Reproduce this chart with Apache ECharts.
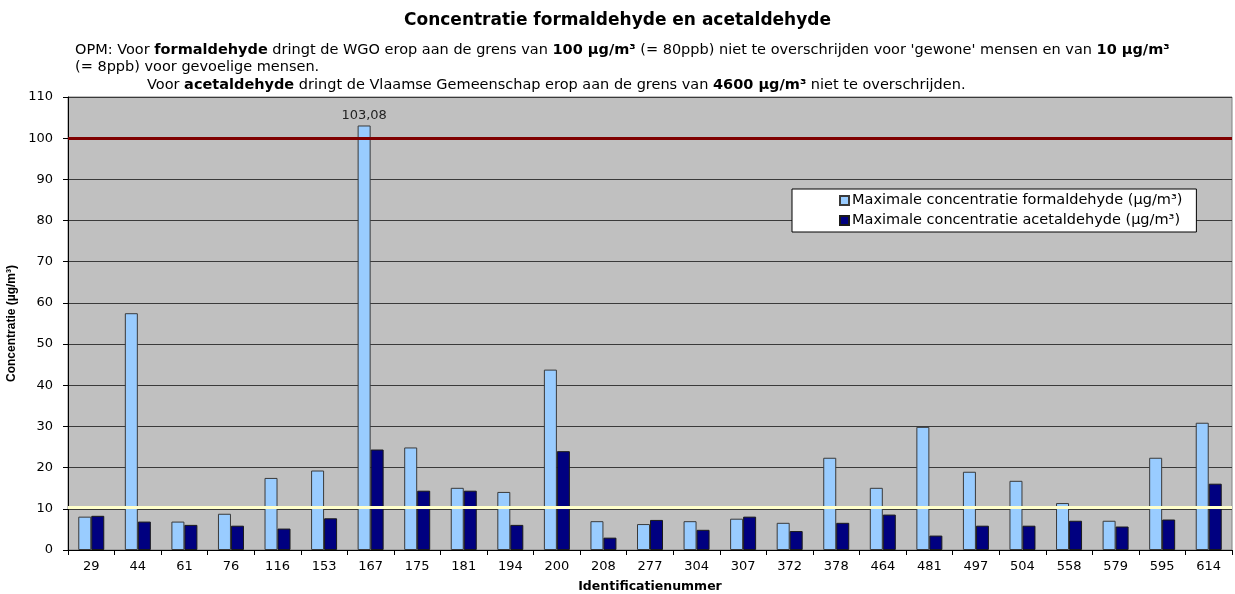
<!DOCTYPE html>
<html>
<head>
<meta charset="utf-8">
<script src="https://cdn.jsdelivr.net/npm/echarts@6/dist/echarts.min.js"></script>
<style>
  html, body { margin: 0; padding: 0; background: #fff; }
  #chart { width: 1235px; height: 594px; }
</style>
</head>
<body>
<div id="chart"></div>
<script>
// identificatienummers
const categories = ['29', '44', '61', '76', '116', '153', '167', '175', '181', '194', '200', '208', '277',
  '304', '307', '372', '378', '464', '481', '497', '504', '558', '579', '595', '614']

// maximale concentraties (µg/m³)
const formaldehyde = [8.1, 57.5, 6.9, 8.8, 17.5, 19.3, 103.08, 24.9, 15.1, 14.1, 43.8, 7.0, 6.3,
  7.0, 7.6, 6.6, 22.4, 15.1, 29.9, 19.0, 16.8, 11.4, 7.1, 22.4, 30.9]
const acetaldehyde = [8.3, 6.9, 6.1, 5.9, 5.2, 7.7, 24.4, 14.4, 14.4, 6.1, 24.0, 3.0, 7.3,
  4.9, 8.1, 4.6, 6.6, 8.6, 3.5, 5.9, 5.9, 7.1, 5.7, 7.4, 16.1]

const seriesNames = ['Maximale concentratie formaldehyde (µg/m³)', 'Maximale concentratie acetaldehyde (µg/m³)']
const yTicks = { min: 0, max: 110, interval: 10 }

// grenswaarden als horizontale lijnen
const limitHigh = 100
const limitLow = 10.4

// alleen de hoogste waarde krijgt een label
const labeledCategory = '167'

const font = 'DejaVu Sans'

const chart = echarts.init(document.getElementById('chart'))

const formData = formaldehyde.map((v, i) => {
  if (categories[i] === labeledCategory) {
    return {
      value: v,
      label: {
        show: true,
        position: 'top',
        distance: 3,
        fontFamily: font,
        fontSize: 13,
        color: '#222',
        formatter: (p) => String(p.value).replace('.', ',')
      }
    }
  }
  return v
})

const rich = {
  n: { fontFamily: font, fontSize: 14.5, color: '#000', lineHeight: 17 },
  b: { fontFamily: font, fontSize: 14.5, fontWeight: 'bold', color: '#000', lineHeight: 17 }
}

const option = {
  animation: false,
  backgroundColor: '#fff',
  title: {
    text: 'Concentratie formaldehyde en acetaldehyde',
    left: 'center',
    top: 7,
    textStyle: { fontFamily: font, fontSize: 17, fontWeight: 'bold', color: '#000' }
  },
  graphic: [
    {
      type: 'text',
      left: 75,
      top: 43,
      style: {
        text: '{n|OPM: Voor }{b|formaldehyde}{n| dringt de WGO erop aan de grens van }{b|100 µg/m³}{n| (= 80ppb) niet te overschrijden voor \'gewone\' mensen en van }{b|10 µg/m³}\n{n|(= 8ppb) voor gevoelige mensen.}',
        rich: rich
      }
    },
    {
      type: 'text',
      left: 147,
      top: 78,
      style: {
        text: '{n|Voor }{b|acetaldehyde}{n| dringt de Vlaamse Gemeenschap erop aan de grens van }{b|4600 µg/m³}{n| niet te overschrijden.}',
        rich: rich
      }
    }
  ],
  legend: {
    orient: 'vertical',
    left: 792,
    top: 189,
    backgroundColor: '#fff',
    borderColor: '#000',
    borderWidth: 1,
    padding: [4, 14, 4, 47],
    itemWidth: 9,
    itemHeight: 9,
    itemGap: 5,
    icon: 'rect',
    textStyle: { fontFamily: font, fontSize: 14.5, color: '#000', padding: [0, 0, 0, -2] },
    data: seriesNames
  },
  grid: {
    left: 68,
    right: 3,
    top: 97,
    bottom: 44,
    outerBoundsMode: 'none',
    show: true,
    backgroundColor: '#C0C0C0',
    borderColor: '#808080',
    borderWidth: 1
  },
  xAxis: {
    type: 'category',
    data: categories,
    name: 'Identificatienummer',
    nameLocation: 'middle',
    nameGap: 30,
    nameTextStyle: { fontFamily: font, fontSize: 12.5, fontWeight: 'bold', color: '#000' },
    axisLine: { lineStyle: { color: '#000', width: 1 } },
    axisTick: { show: true, length: 5, lineStyle: { color: '#000' } },
    axisLabel: { fontFamily: font, fontSize: 13, color: '#000', margin: 10 }
  },
  yAxis: {
    type: 'value',
    min: yTicks.min,
    max: yTicks.max,
    interval: yTicks.interval,
    name: 'Concentratie (µg/m³)',
    nameLocation: 'middle',
    nameGap: 40,
    nameTextStyle: { fontFamily: 'Liberation Sans Narrow, Liberation Sans', fontSize: 12, fontWeight: 'bold', color: '#000' },
    axisLine: { show: true, lineStyle: { color: '#000', width: 1 } },
    axisTick: { show: true, length: 5, lineStyle: { color: '#000' } },
    axisLabel: { fontFamily: font, fontSize: 13, color: '#000', margin: 15 },
    splitLine: { show: true, lineStyle: { color: '#3a3a3a', width: 1 } }
  },
  series: [
    {
      name: seriesNames[0],
      type: 'bar',
      data: formData,
      barWidth: 13,
      barGap: '0%',
      itemStyle: { color: '#99CCFF', borderColor: '#3a3a3a', borderWidth: 1 },
      markLine: {
        silent: true,
        symbol: 'none',
        label: { show: false },
        data: [
          { yAxis: limitHigh, lineStyle: { color: '#800000', width: 3, type: 'solid' } },
          { yAxis: limitLow, lineStyle: { color: '#FFFFCC', width: 3, type: 'solid' } }
        ]
      }
    },
    {
      name: seriesNames[1],
      type: 'bar',
      data: acetaldehyde,
      barWidth: 13,
      barGap: '0%',
      itemStyle: { color: '#000080', borderColor: '#1a1a1a', borderWidth: 1 }
    }
  ]
}

chart.setOption(option)
</script>
</body>
</html>
